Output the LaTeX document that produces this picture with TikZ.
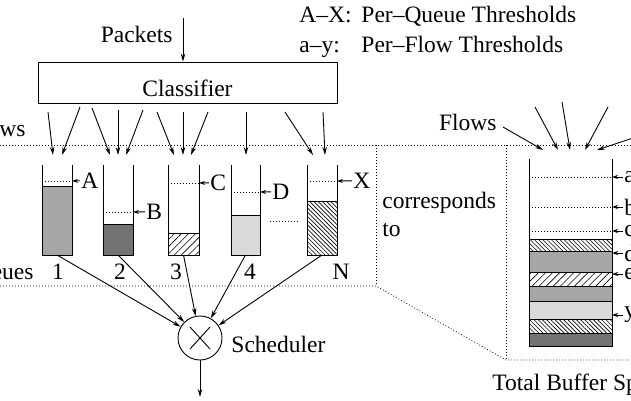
\documentclass[tikz,border=0pt]{standalone}
\usepackage{fontspec}
\setmainfont{Liberation Serif}
\usetikzlibrary{arrows.meta,patterns.meta}
\definecolor{gmid}{HTML}{A6A6A6}
\definecolor{gdark}{HTML}{737373}
\definecolor{glight}{HTML}{D9D9D9}
\tikzset{
  arr/.style={-{Stealth[length=8pt,width=4.5pt]}},
  sarr/.style={-{Stealth[length=6pt,width=4pt]}},
  dots/.style={line width=0.8pt,dash pattern=on 0.8pt off 2.2pt},
  lbl/.style={anchor=base west,inner sep=1pt},
  fa/.style={fill=gmid},
  fb/.style={fill=gdark},
  fc/.style={fill=glight},
  hatchA/.style={pattern={Lines[angle=45,distance=5pt,line width=0.6pt]}},
  hatchB/.style={pattern={Lines[angle=-45,distance=3pt,line width=0.6pt]}},
}
\begin{document}
\begin{tikzpicture}[x=1pt,y=-1pt,font=\fontsize{23.5}{28}\selectfont,line width=0.9pt]
\useasboundingbox (0,0) rectangle (631,401);
\clip (0,0) rectangle (631,401);

% legend
\node[lbl] (lgA) at (298,23) {A–X:};
\node[lbl] (lgAt) at (360,23) {Per–Queue Thresholds};
\node[lbl] (lgB) at (298,53) {a–y:};
\node[lbl] (lgBt) at (360,53) {Per–Flow Thresholds};

% lens frame (dotted)
\draw[dots] (0,145) -- (631,145);
\draw[dots] (376,145) -- (376,286);
\draw[dots] (0,286) -- (376,286) -- (506,360) -- (631,360);
\draw[dots] (506,145) -- (506,360);

% classifier
\node[draw,minimum width=299pt,minimum height=41pt,text height=27pt,text depth=0pt,inner sep=0pt] (cls) at (187.5,82.5) {Classifier};
\node[anchor=base east,inner sep=0pt] (pk) at (173,43) {Packets};
\coordinate (pin) at (183,18);
\draw[arr] (pin) -- (pin |- cls.north);

% arrows classifier -> queues
\foreach \k/\sx/\sy/\ex/\ey in {1/48/112/53/155, 2/80/107/62/155, 3/92/108/110/155,
  4/118/110/118/155, 5/143/110/126/155, 6/157/112/174/155, 7/183/112/183/155,
  8/208/112/191/155, 9/246/112/246/155, 10/285/112/313/155, 11/323/112/325/155}{
  \coordinate (cs\k) at (\sx,\sy);
  \coordinate (ce\k) at (\ex,\ey);
  \draw[arr] (cs\k) -- (ce\k);
}

\node[anchor=base east,inner sep=0pt] (flowsL) at (26,136) {Flows};
\node[anchor=base east,inner sep=0pt] (queuesL) at (34,279) {Queues};

% queues
\foreach \i/\xl/\xr/\ft/\fs/\th/\lx/\lab/\num/\nx in {
  1/42/72/186/fa/181/80/A/1/58,
  2/103/133/224/fb/212/145/B/2/120,
  3/168/199/233/hatchA/183/209/C/3/176,
  4/231/260/215/fc/192/271/D/4/250,
  5/307/337/201/hatchB/181/352/X/N/341}{
  \draw[\fs] (\xl,\ft) rectangle (\xr,255);
  \draw (\xl,165) -- (\xl,255) -- (\xr,255) -- (\xr,165);
  \draw[dots] (\xl,\th) -- (\xr,\th);
  \coordinate (t\i) at (\xr,\th);
  \node[lbl] (l\i) at (\lx,\th+7.5) {\lab};
  \draw[sarr] (l\i.west) -- (t\i);
  \coordinate (qb\i) at ({(\xl+\xr)/2},255);
  \node[anchor=base,inner sep=0pt] (n\i) at (\nx,279) {\num};
}
\draw[dots] (270,221) -- (299,221);

% scheduler
\node[circle,draw,minimum size=44pt,inner sep=0pt] (sch) at (200,338) {};
\draw (sch.center) ++(-10,-11) -- ++(20,22);
\draw (sch.center) ++(10,-11) -- ++(-20,22);
\node[anchor=base west,inner sep=0pt] (schl) at (231,352) {Scheduler};
\foreach \i in {1,...,5}{\draw[arr] (qb\i) -- (sch);}
\coordinate (out) at (200,397);
\draw[arr] (sch) -- (out);

% corresponds to
\node[anchor=base west,inner sep=0pt] (corr1) at (382,208) {corresponds};
\node[anchor=base west,inner sep=0pt] (corr2) at (382,236) {to};

% flows into big buffer
\node[anchor=base east,inner sep=0pt] (flowsR) at (497,130) {Flows};
\foreach \k/\sx/\sy/\ex/\ey in {1/503/127/543/150, 2/535/107/558/150, 3/562/102/570/150,
  4/608/107/585/150, 5/645/134/597/150}{
  \coordinate (fs\k) at (\sx,\sy);
  \coordinate (fe\k) at (\ex,\ey);
  \draw[arr] (fs\k) -- (fe\k);
}

% big buffer
\draw[hatchB] (529,239) rectangle (612,251);
\draw[fa] (529,251) rectangle (612,272);
\draw[hatchA] (529,272) rectangle (612,286);
\draw[fa] (529,286) rectangle (612,301);
\draw[fc] (529,301) rectangle (612,319);
\draw[hatchB] (529,319) rectangle (612,333);
\draw[fb] (529,333) rectangle (612,346);
\draw (529,159) -- (529,346) -- (612,346) -- (612,159);
\foreach \y in {177,207,231}{\draw[dots] (532,\y) -- (612,\y);}
\foreach \y/\lab in {177/a,207/b,231/c,253/d,274/e,315/y}{
  \coordinate (bt\lab) at (612,\y);
  \node[anchor=west,inner sep=1pt] (bl\lab) at (623,\y) {\lab};
  \draw[sarr] (bl\lab.west) -- (bt\lab);
}
\node[anchor=base west,inner sep=0pt] (tbs) at (492,390) {Total Buffer Space};
\end{tikzpicture}
\end{document}
